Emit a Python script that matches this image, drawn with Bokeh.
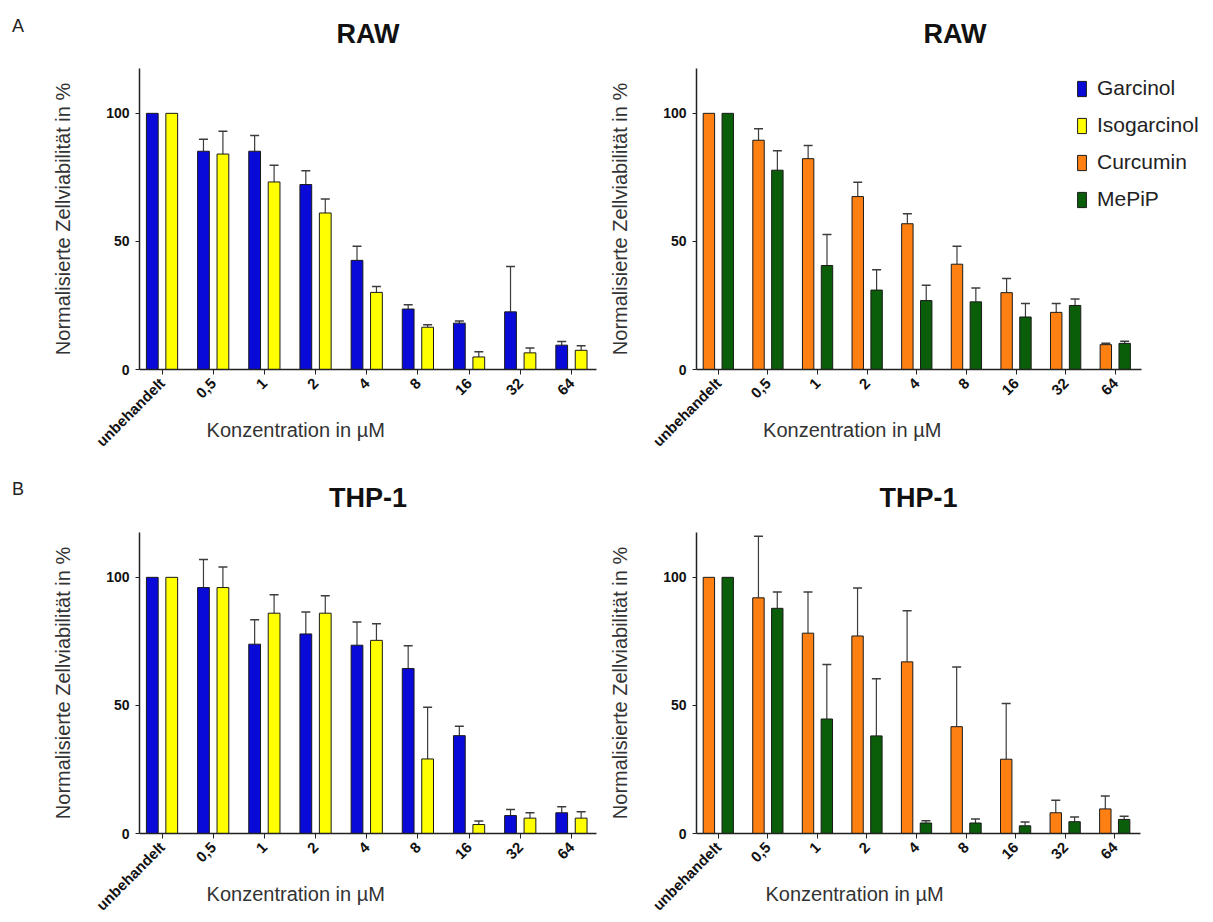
from bokeh.plotting import figure
from bokeh.models import (ColumnDataSource, FixedTicker, Whisker, TeeHead,
                          Legend, LegendItem, Range1d, Div)
from bokeh.transform import dodge
from bokeh.layouts import column, row
from bokeh.embed import file_html
from bokeh.resources import INLINE

# ---------------- data ----------------
categories = ["unbehandelt", "0,5", "1", "2", "4", "8", "16", "32", "64"]

raw_garcinol = [100, 85.2, 85.2, 72.2, 42.6, 23.6, 18.1, 22.5, 9.5]
raw_garcinol_sd = [0, 4.7, 6.1, 5.4, 5.5, 1.7, 0.8, 17.7, 1.4]
raw_isogarcinol = [100, 84.1, 73.2, 61.1, 30.1, 16.5, 4.9, 6.5, 7.5]
raw_isogarcinol_sd = [0, 8.9, 6.5, 5.5, 2.3, 1.0, 2.0, 1.9, 1.8]
raw_curcumin = [100, 89.5, 82.3, 67.5, 56.9, 41.1, 30.0, 22.3, 9.7]
raw_curcumin_sd = [0, 4.5, 5.1, 5.6, 3.9, 7.0, 5.5, 3.5, 0.5]
raw_mepip = [100, 77.8, 40.6, 31.0, 26.9, 26.4, 20.5, 25.0, 10.2]
raw_mepip_sd = [0, 7.6, 12.1, 7.9, 6.0, 5.4, 5.3, 2.5, 0.8]

thp_garcinol = [100, 96.0, 73.9, 77.9, 73.5, 64.4, 38.2, 7.0, 8.1]
thp_garcinol_sd = [0, 11.0, 9.5, 8.6, 9.1, 8.9, 3.7, 2.4, 2.3]
thp_isogarcinol = [100, 96.0, 86.0, 86.0, 75.4, 29.1, 3.5, 6.0, 6.0]
thp_isogarcinol_sd = [0, 8.0, 7.2, 6.8, 6.5, 20.2, 1.4, 2.1, 2.5]
thp_curcumin = [100, 92.0, 78.2, 77.1, 67.0, 41.7, 29.0, 8.1, 9.6]
thp_curcumin_sd = [0, 24.0, 16.1, 18.7, 20.0, 23.3, 21.7, 4.9, 5.0]
thp_mepip = [100, 87.9, 44.7, 38.1, 4.1, 4.1, 3.0, 4.6, 5.5]
thp_mepip_sd = [0, 6.4, 21.3, 22.3, 0.9, 1.6, 1.5, 1.8, 1.2]

series_names = ["Garcinol", "Isogarcinol", "Curcumin", "MePiP"]
colors = {"Garcinol": "#0a0ad8", "Isogarcinol": "#ffff00",
          "Curcumin": "#ff8012", "MePiP": "#0a5e0a"}

y_ticks = [0, 50, 100]
x_title = "Konzentration  in µM"
y_title = "Normalisierte Zellviabilität in %"

FONT = "Liberation Sans"
H = 461
LETTER_W = 40
NBSP = "\u00a0"


def letter_div(letter, top):
    html = ('<div style="padding:%dpx 0 0 12px; font-family:\'Liberation Sans\', Arial, '
            'sans-serif; font-size:18px; line-height:21px; color:#222222;">%s</div>'
            % (top, letter))
    return Div(text=html, width=LETTER_W, height=H, margin=0)


def panel(width, title, s1, s2, borders, xr, axis_end, pad, legend_data=None):
    left, right, top, bottom = borders
    fh = H - top - bottom
    p = figure(width=width, height=H, output_backend="svg", toolbar_location=None,
               x_range=Range1d(*xr), y_range=Range1d(0, 117.5),
               min_border_left=left, min_border_right=right,
               min_border_top=top, min_border_bottom=bottom, title=title)
    p.outline_line_color = None
    p.xgrid.visible = False
    p.ygrid.visible = False
    p.background_fill_color = "white"

    p.title.align = "center"
    p.title.vertical_align = "top"
    p.title.standoff = 35
    p.title.text_font = FONT
    p.title.text_font_size = "27px"
    p.title.text_font_style = "bold"
    p.title.text_color = "#111111"

    idx = list(range(len(categories)))
    renderers = {}
    for (name, vals, sd), off in zip([s1, s2], [-0.19, 0.19]):
        src = ColumnDataSource(dict(x=idx, top=vals))
        r = p.vbar(x=dodge("x", off), top="top", width=0.23, source=src,
                   fill_color=colors[name], line_color="#1a1a1a", line_width=1)
        renderers[name] = r
        ex = [i for i, s in zip(idx, sd) if s > 0]
        lo = [v for v, s in zip(vals, sd) if s > 0]
        hi = [v + s for v, s in zip(vals, sd) if s > 0]
        esrc = ColumnDataSource(dict(x=ex, lower=lo, upper=hi))
        w = Whisker(base=dodge("x", off), lower="lower", upper="upper", source=esrc,
                    line_color="#3c3c3c", line_width=1.2,
                    upper_head=TeeHead(size=9, line_color="#3c3c3c", line_width=1.5),
                    lower_head=None)
        p.add_layout(w)

    # x axis
    xa = p.xaxis[0]
    xa.bounds = (xr[0], axis_end)
    xa.ticker = FixedTicker(ticks=idx)
    xa.major_label_overrides = {i: c for i, c in enumerate(categories)}
    xa.major_label_orientation = 0.785398
    xa.minor_tick_line_color = None
    xa.major_tick_out = 5
    xa.major_tick_in = 0
    xa.axis_line_width = 1.5
    xa.axis_line_color = "#222222"
    xa.major_tick_line_color = "#222222"
    xa.major_label_text_font = FONT
    xa.major_label_text_font_style = "bold"
    xa.major_label_text_font_size = "15px"
    xa.major_label_text_color = "#111111"
    xa.major_label_standoff = 6
    xa.axis_label = x_title + NBSP * pad
    xa.axis_label_text_font = FONT
    xa.axis_label_text_font_style = "normal"
    xa.axis_label_text_font_size = "20px"
    xa.axis_label_text_color = "#333333"
    xa.axis_label_standoff = -40

    # y axis
    ya = p.yaxis[0]
    ya.ticker = FixedTicker(ticks=y_ticks)
    ya.minor_tick_line_color = None
    ya.major_tick_out = 4
    ya.major_tick_in = 0
    ya.axis_line_width = 1.5
    ya.axis_line_color = "#222222"
    ya.major_tick_line_color = "#222222"
    ya.major_label_text_font = FONT
    ya.major_label_text_font_style = "bold"
    ya.major_label_text_font_size = "14px"
    ya.major_label_text_color = "#111111"
    ya.major_label_standoff = 6
    ya.axis_label = y_title
    ya.axis_label_text_font = FONT
    ya.axis_label_text_font_style = "normal"
    ya.axis_label_text_font_size = "20px"
    ya.axis_label_text_color = "#333333"
    ya.axis_label_standoff = 29

    if legend_data is not None:
        items = []
        for name in series_names:
            if name in renderers:
                r = renderers[name]
            else:
                # legend-only renderer (hidden in this panel)
                vals = legend_data[name]
                src = ColumnDataSource(dict(x=idx, top=vals))
                r = p.vbar(x="x", top="top", width=0.23, source=src,
                           fill_color=colors[name], line_color="#1a1a1a",
                           visible=False)
            items.append(LegendItem(label=name, renderers=[r]))
        lg = Legend(items=items, location=(380, fh - 143), glyph_width=11,
                    glyph_height=19, spacing=13, label_standoff=10,
                    label_text_font=FONT, label_text_font_size="21px",
                    label_text_color="#222222", padding=0, margin=0,
                    border_line_color=None, background_fill_alpha=0,
                    inactive_fill_alpha=0)
        p.add_layout(lg)
    return p


LW = 606 - LETTER_W
a0 = letter_div("A", 16)
a1 = panel(LW, "RAW", ("Garcinol", raw_garcinol, raw_garcinol_sd),
           ("Isogarcinol", raw_isogarcinol, raw_isogarcinol_sd),
           (139 - LETTER_W, 10, 68, 91), (-0.44, 8.49), 8.49, 25)
a2 = panel(607, "RAW", ("Curcumin", raw_curcumin, raw_curcumin_sd),
           ("MePiP", raw_mepip, raw_mepip_sd),
           (84, 0, 68, 92), (-0.44, 9.98), 8.52, 36,
           legend_data={"Garcinol": raw_garcinol, "Isogarcinol": raw_isogarcinol})
b0 = letter_div("B", 18)
b1 = panel(LW, "THP-1", ("Garcinol", thp_garcinol, thp_garcinol_sd),
           ("Isogarcinol", thp_isogarcinol, thp_isogarcinol_sd),
           (139 - LETTER_W, 10, 71, 89), (-0.44, 8.49), 8.49, 25)
b2 = panel(607, "THP-1", ("Curcumin", thp_curcumin, thp_curcumin_sd),
           ("MePiP", thp_mepip, thp_mepip_sd),
           (84, 73, 71, 89), (-0.44, 8.52), 8.52, 22)

layout = column(row(a0, a1, a2), row(b0, b1, b2))
open("out.html", "w").write(file_html(layout, INLINE))
